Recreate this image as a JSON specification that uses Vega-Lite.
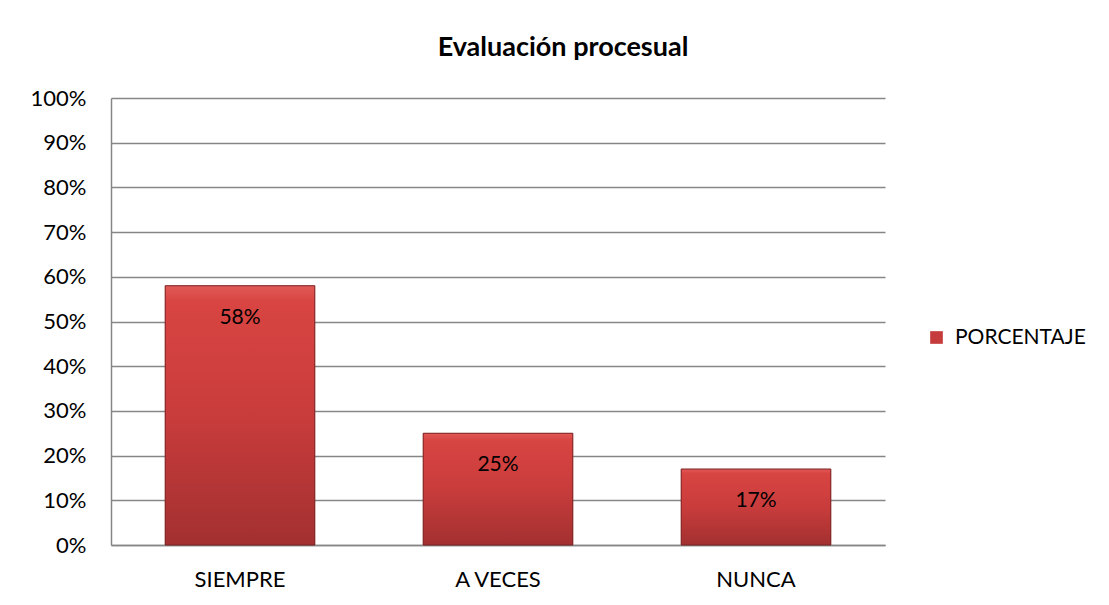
{
  "$schema": "https://vega.github.io/schema/vega-lite/v6.json",
  "autosize": {"type": "none"},
  "padding": {"left": 111, "top": 98, "right": 224, "bottom": 60},
  "width": 774,
  "height": 447,
  "background": "white",
  "title": {
    "text": "Evaluación procesual",
    "font": "Lato",
    "fontSize": 27,
    "fontWeight": "bold",
    "color": "black",
    "anchor": "middle",
    "dx": 65,
    "offset": 25
  },
  "data": {
    "values": [
      {"categoria": "SIEMPRE", "valor": 0.58, "serie": "PORCENTAJE"},
      {"categoria": "A VECES", "valor": 0.25, "serie": "PORCENTAJE"},
      {"categoria": "NUNCA", "valor": 0.17, "serie": "PORCENTAJE"}
    ]
  },
  "encoding": {
    "x": {
      "field": "categoria",
      "type": "nominal",
      "sort": null,
      "scale": {"paddingInner": 0.42, "paddingOuter": 0.21},
      "axis": {
        "title": null,
        "labelAngle": 0,
        "labelFont": "Lato",
        "labelFontSize": 22,
        "labelColor": "black",
        "labelPadding": 24,
        "ticks": false,
        "domainColor": "#868686",
        "domainWidth": 1.5
      }
    },
    "y": {
      "field": "valor",
      "type": "quantitative",
      "scale": {"domain": [0, 1]},
      "axis": {
        "title": null,
        "format": ".0%",
        "values": [0, 0.1, 0.2, 0.3, 0.4, 0.5, 0.6, 0.7, 0.8, 0.9, 1],
        "labelFont": "Lato",
        "labelFontSize": 22,
        "labelColor": "black",
        "labelPadding": 25,
        "ticks": false,
        "domainColor": "#868686",
        "domainWidth": 1.5,
        "gridColor": "#868686",
        "gridWidth": 1.5
      }
    }
  },
  "layer": [
    {
      "mark": {"type": "bar"},
      "encoding": {
        "color": {
          "field": "serie",
          "type": "nominal",
          "scale": {"range": ["#c63b3b"]},
          "legend": {
            "title": null,
            "orient": "none",
            "legendX": 815,
            "legendY": 229,
            "symbolType": "square",
            "symbolSize": 160,
            "symbolStrokeWidth": 0,
            "labelFont": "Lato",
            "labelFontSize": 21,
            "labelColor": "black",
            "labelOffset": 8
          }
        }
      }
    },
    {
      "mark": {
        "type": "bar",
        "stroke": "#7a2222",
        "strokeWidth": 1,
        "color": {
          "gradient": "linear",
          "x1": 0, "y1": 0, "x2": 0, "y2": 1,
          "stops": [
            {"offset": 0, "color": "#e05a57"},
            {"offset": 0.06, "color": "#d84542"},
            {"offset": 0.5, "color": "#c93c3c"},
            {"offset": 1, "color": "#a33030"}
          ]
        }
      }
    },
    {
      "mark": {
        "type": "text",
        "baseline": "top",
        "dy": 21,
        "font": "Lato",
        "fontSize": 21,
        "color": "black"
      },
      "encoding": {
        "text": {"field": "valor", "type": "quantitative", "format": ".0%"}
      }
    }
  ],
  "config": {
    "view": {"stroke": null}
  }
}
